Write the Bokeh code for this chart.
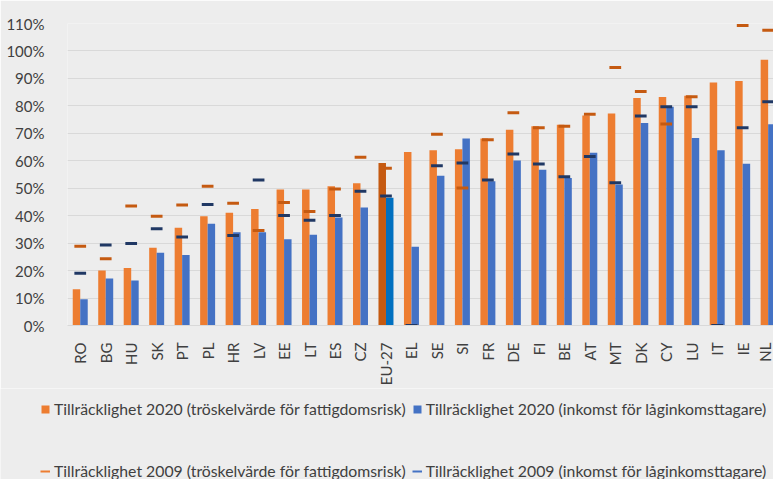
import numpy as np
from bokeh.plotting import figure
from bokeh.models import (ColumnDataSource, FixedTicker, PrintfTickFormatter, Legend,
                          LegendItem, Range1d)
from bokeh.transform import dodge
from bokeh.embed import file_html
from bokeh.resources import INLINE

categories = ["RO", "BG", "HU", "SK", "PT", "PL", "HR", "LV", "EE", "LT", "ES", "CZ", "EU-27",
              "EL", "SE", "SI", "FR", "DE", "FI", "BE", "AT", "MT", "DK", "CY", "LU", "IT", "IE", "NL"]
adequacy_2020_poverty = [13.2, 20.0, 20.9, 28.3, 35.6, 39.8, 41.1, 42.4, 49.5, 49.5, 50.7, 51.8, 59.2,
                         63.2, 63.8, 64.2, 68.1, 71.3, 72.6, 73.1, 76.5, 77.2, 82.9, 83.2, 83.7, 88.5, 89.1, 96.8]
adequacy_2020_lowincome = [9.6, 17.1, 16.4, 26.5, 25.7, 37.1, 34.0, 34.0, 31.4, 33.1, 39.3, 43.0, 46.5,
                           28.7, 54.5, 68.1, 52.5, 60.1, 56.7, 53.7, 62.9, 51.4, 73.8, 79.7, 68.3, 63.8, 58.9, 73.3]
adequacy_2009_poverty = [28.9, 24.3, 43.5, 39.8, 43.9, 50.7, 44.5, 34.6, 44.8, 41.5, 49.7, 61.3, 57.3,
                         0, 69.7, 50.1, 67.7, 77.5, 72.0, 72.6, 76.9, 94.0, 85.2, 73.4, 83.3, 0, 109.3, 107.5]
adequacy_2009_lowincome = [19.0, 29.3, 29.9, 35.2, 32.2, 44.1, 32.8, 53.0, 40.1, 38.3, 40.1, 48.9, 47.2,
                           0, 58.2, 59.2, 53.0, 62.5, 58.8, 54.2, 61.6, 52.0, 76.3, 79.7, 79.7, 0, 72.0, 81.5]
y_ticks = [0, 10, 20, 30, 40, 50, 60, 70, 80, 90, 100, 110]
labels = ["Tillräcklighet 2020 (tröskelvärde för fattigdomsrisk)",
          "Tillräcklighet 2020 (inkomst för låginkomsttagare)",
          "Tillräcklighet 2009 (tröskelvärde för fattigdomsrisk)",
          "Tillräcklighet 2009 (inkomst för låginkomsttagare)"]

BG = "#EDEDED"
TXT = "#404040"
FONT = "Lato"
ORANGE, BLUE = "#ED7D31", "#4472C4"
ORANGE_EU, BLUE_EU = "#C55A11", "#0070C0"
ORANGE_09, BLUE_09 = "#C55A11", "#203864"

x = np.arange(len(categories))
src = ColumnDataSource(dict(
    x=x,
    p20=adequacy_2020_poverty,
    l20=adequacy_2020_lowincome,
    p09=adequacy_2009_poverty,
    l09=adequacy_2009_lowincome,
    c_or=[ORANGE_EU if c == "EU-27" else ORANGE for c in categories],
    c_bl=[BLUE_EU if c == "EU-27" else BLUE for c in categories],
))

H_MAIN = 388
p = figure(width=773, height=H_MAIN, output_backend="svg", toolbar_location=None,
           x_range=Range1d(-0.5, 27.21), y_range=Range1d(0, 110),
           min_border_left=67, min_border_right=0, min_border_top=23,
           min_border_bottom=H_MAIN - 330)
p.background_fill_color = BG
p.border_fill_color = BG
p.outline_line_color = None

p.vbar(x=dodge("x", -0.147), top="p20", width=0.294, source=src,
       fill_color="c_or", line_color=None)
p.vbar(x=dodge("x", 0.147), top="l20", width=0.294, source=src,
       fill_color="c_bl", line_color=None)
p.segment(x0=dodge("x", -0.23), x1=dodge("x", 0.23), y0="p09", y1="p09", source=src,
          line_color=ORANGE_09, line_width=3)
p.segment(x0=dodge("x", -0.23), x1=dodge("x", 0.23), y0="l09", y1="l09", source=src,
          line_color=BLUE_09, line_width=3)

# axes
p.xaxis.ticker = FixedTicker(ticks=[int(i) for i in x])
p.xaxis.major_label_overrides = {int(i): c for i, c in zip(x, categories)}
p.xaxis.major_label_orientation = np.pi / 2
p.xaxis.axis_line_color = "#D9D9D9"
p.xaxis.major_tick_line_color = None
p.xaxis.minor_tick_line_color = None
p.xaxis.major_label_standoff = 11
p.xaxis.major_label_text_font = FONT
p.xaxis.major_label_text_font_size = "15px"
p.xaxis.major_label_text_color = TXT

p.yaxis.ticker = FixedTicker(ticks=y_ticks)
p.yaxis.formatter = PrintfTickFormatter(format="%d%%")
p.yaxis.axis_line_color = None
p.yaxis.major_tick_line_color = None
p.yaxis.minor_tick_line_color = None
p.yaxis.major_label_standoff = 17
p.yaxis.major_label_text_font = FONT
p.yaxis.major_label_text_font_size = "15px"
p.yaxis.major_label_text_color = TXT

p.xgrid.grid_line_color = None
p.ygrid.grid_line_color = "#D9D9D9"
p.ygrid.grid_line_width = 1

# legend strip below the chart (its own plot, frame covering the whole strip)
H_LEG = 479 - H_MAIN
q = figure(width=773, height=H_LEG, output_backend="svg", toolbar_location=None,
           x_axis_type=None, y_axis_type=None,
           x_range=Range1d(-0.5, 27.21), y_range=Range1d(1000, 1001),
           min_border_left=0, min_border_right=0, min_border_top=0, min_border_bottom=0)
q.background_fill_color = BG
q.border_fill_color = BG
q.outline_line_color = None
q.grid.grid_line_color = None
lr1 = q.vbar(x="x", top="p20", width=0.294, source=src, fill_color="c_or", line_color=None)
lr2 = q.vbar(x="x", top="l20", width=0.294, source=src, fill_color="c_bl", line_color=None)
lr3 = q.segment(x0="x", x1="x", y0="p09", y1="p09", source=src,
                line_color=ORANGE, line_width=2)
lr4 = q.segment(x0="x", x1="x", y0="l09", y1="l09", source=src,
                line_color=BLUE, line_width=2)


def make_legend(items, loc):
    return Legend(items=items, orientation="horizontal", location=loc,
                  label_text_font=FONT, label_text_font_size="15.8px", label_text_color=TXT,
                  glyph_width=10, glyph_height=10, label_height=10, label_standoff=4,
                  spacing=6, padding=0, margin=0,
                  border_line_alpha=0, background_fill_alpha=0)


leg1 = make_legend([LegendItem(label=labels[0], renderers=[lr1], index=0),
                    LegendItem(label=labels[1], renderers=[lr2], index=0)],
                   (40, H_LEG - (409 - H_MAIN) - 9))
leg2 = make_legend([LegendItem(label=labels[2], renderers=[lr3], index=0),
                    LegendItem(label=labels[3], renderers=[lr4], index=0)],
                   (40, H_LEG - (471 - H_MAIN) - 9))
q.add_layout(leg1)
q.add_layout(leg2)

html = file_html([p, q], INLINE)
html = html.replace("<body>", '<body style="background-color: %s;">' % BG, 1)
open("out.html", "w").write(html)
